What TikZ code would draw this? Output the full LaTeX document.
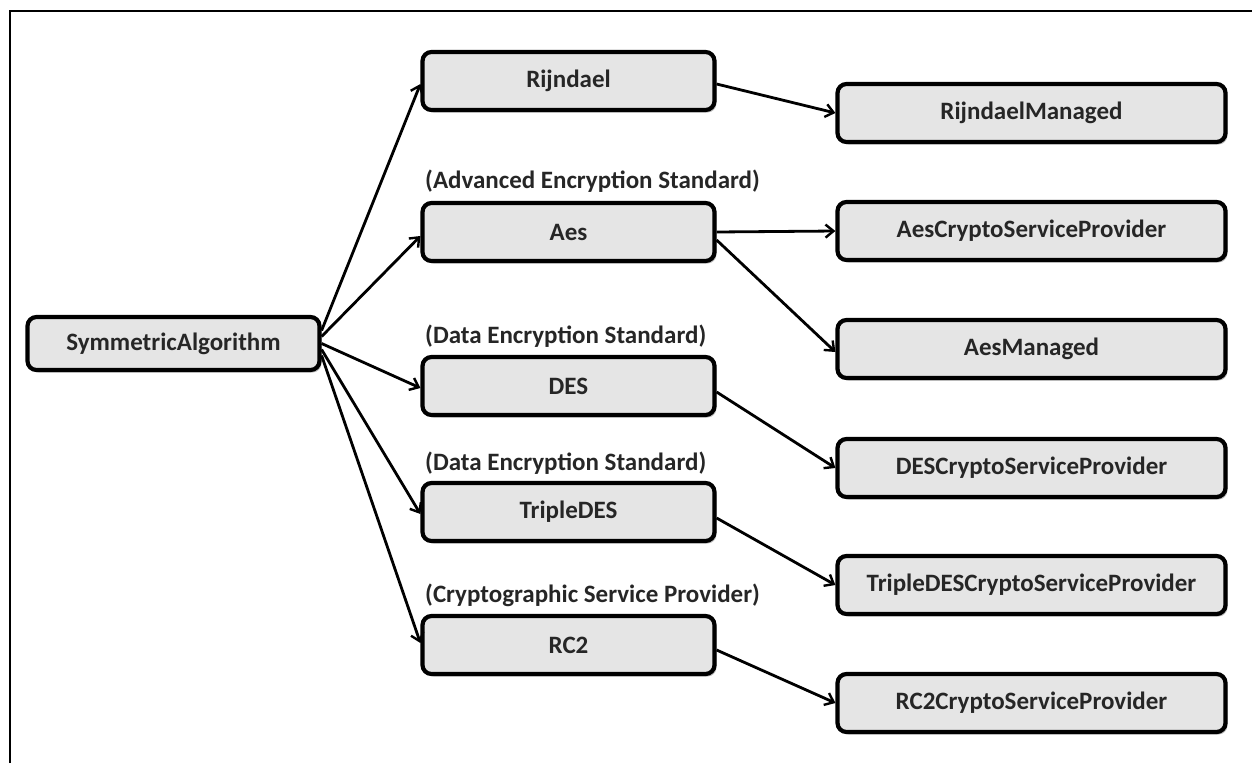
\documentclass[tikz,border=0pt]{standalone}
\usepackage{fontspec}
\setmainfont{Carlito}
\usetikzlibrary{arrows.meta,shadows}
\begin{document}
\begin{tikzpicture}[x=1pt,y=-1pt,
  box/.style={draw=black, line width=4.2pt, rounded corners=9pt, fill=black!10,
    minimum height=58pt, inner sep=0pt, font=\fontsize{25}{28}\selectfont\bfseries,
    text=black!85,
    drop shadow={shadow xshift=2pt, shadow yshift=-2.5pt, opacity=0.25, fill=black}},
  lbox/.style={box, minimum width=292pt},
  rbox/.style={box, minimum width=388pt},
  lbl/.style={font=\fontsize{25}{28}\selectfont\bfseries, text=black!85, inner sep=0pt, anchor=west},
  conn/.style={line width=2.8pt, -{Straight Barb[length=8pt,width=13pt,line width=2.4pt]}},
  frame/.style={line width=2pt}]
\useasboundingbox (0,0) rectangle (1252,763);
\coordinate (f1) at (10,763);
\coordinate (f2) at (10,11);
\coordinate (f3) at (1252,11);
\draw[frame] (f1) -- (f2) -- (f3);

\node[box, minimum width=292pt, minimum height=53pt] (sa) at (173.5,343.5) {SymmetricAlgorithm};

\node[lbox] (rij)  at (568.5,81)  {Rijndael};
\node[lbox] (aes)  at (568.5,232) {Aes};
\node[lbox] (des)  at (568.5,386) {DES};
\node[lbox] (tdes) at (568.5,512) {TripleDES};
\node[lbox] (rc2)  at (568.5,645) {RC2};

\node[lbl] (l1) at (425,181) {(Advanced Encryption Standard)};
\node[lbl] (l2) at (425,336) {(Data Encryption Standard)};
\node[lbl] (l3) at (425,463) {(Data Encryption Standard)};
\node[lbl] (l4) at (425,595) {(Cryptographic Service Provider)};

\node[rbox] (rm)   at (1031.5,113) {RijndaelManaged};
\node[rbox] (acsp) at (1031.5,231) {AesCryptoServiceProvider};
\node[rbox] (am)   at (1031.5,349) {AesManaged};
\node[rbox] (dcsp) at (1031.5,468) {DESCryptoServiceProvider};
\node[rbox] (tcsp) at (1031.5,585) {TripleDESCryptoServiceProvider};
\node[rbox] (rcsp) at (1031.5,703) {RC2CryptoServiceProvider};

\draw[conn] ([yshift=13pt]sa.east) -- ([yshift=-3pt]rij.west);
\draw[conn] ([yshift=7pt]sa.east) -- ([yshift=-4pt]aes.west);
\draw[conn] (sa.east) -- ([yshift=-2pt]des.west);
\draw[conn] ([yshift=-6pt]sa.east) -- ([yshift=-2pt]tdes.west);
\draw[conn] ([yshift=-12pt]sa.east) -- ([yshift=2pt]rc2.west);

\draw[conn] ([yshift=-3pt]rij.east) -- (rm.west);
\draw[conn] (aes.east) -- (acsp.west);
\draw[conn] ([yshift=-8pt]aes.east) -- ([yshift=-3pt]am.west);
\draw[conn] ([yshift=-6pt]des.east) -- (dcsp.west);
\draw[conn] ([yshift=-6pt]tdes.east) -- (tcsp.west);
\draw[conn] ([yshift=-5pt]rc2.east) -- (rcsp.west);
\end{tikzpicture}
\end{document}
